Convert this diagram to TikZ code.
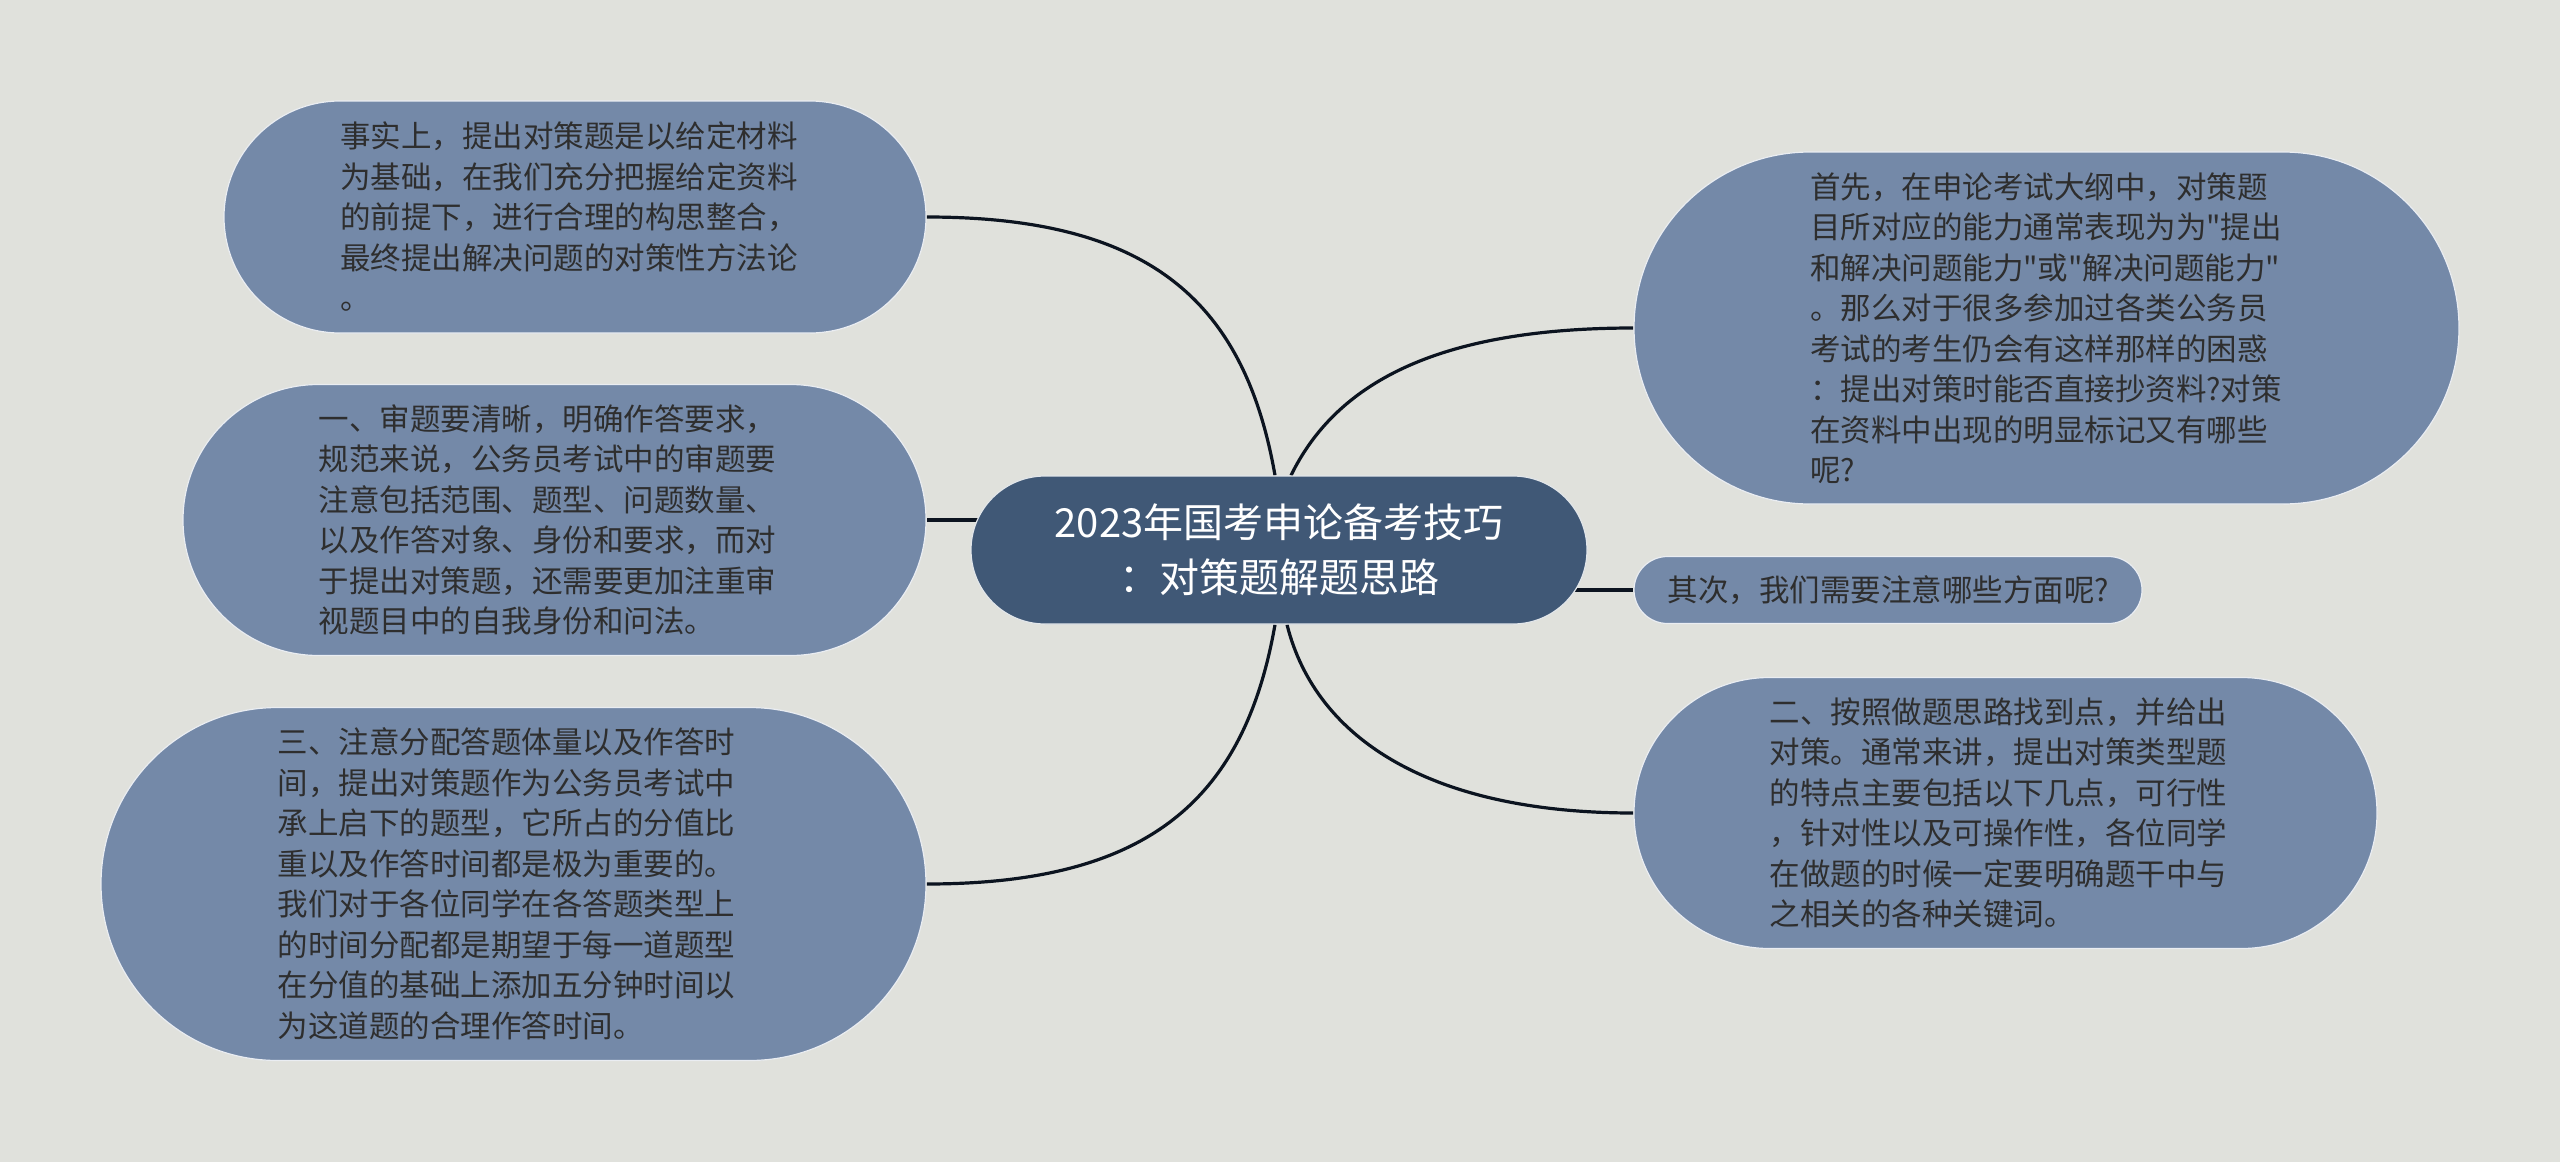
\documentclass[tikz,border=0pt]{standalone}
\usepackage{fontspec}
\newfontfamily\cjkfont{Noto Sans CJK SC}
\usepackage{xcolor}
\usepackage{tikz}
\usetikzlibrary{
    positioning,
    backgrounds
}
\definecolor{paper}{HTML}{E0E1DC}
\definecolor{leafblue}{HTML}{7489A8}
\definecolor{rootblue}{HTML}{405876}
\definecolor{inkgray}{HTML}{2E2E2E}
\definecolor{branchink}{HTML}{0C1420}
\newcommand\leaftextfont{\cjkfont\fontsize{30.5pt}{40.5pt}\selectfont}
\newcommand\roottextfont{\cjkfont\fontsize{40pt}{55.5pt}\selectfont}
\tikzset{
    leaf/.style={
        rectangle, fill=leafblue, draw=white!85!leafblue, line width=1.2pt,
        text=inkgray, align=left, inner sep=0pt, font=\leaftextfont
    },
    rootbox/.style={
        rectangle, fill=rootblue, draw=white!85!rootblue, line width=1.2pt,
        text=white, align=center, inner sep=0pt, font=\roottextfont
    },
    branch/.style={
        line width=3.2pt, draw=branchink
    }
}

\begin{document}
\begin{tikzpicture}[x=1pt, y=-1pt]

        \useasboundingbox (0,0) rectangle (2560,1162);
        \begin{scope}[on background layer]
            \fill[paper] (0,0) rectangle (2560,1162);
        \end{scope}

        % Root
        \node[rootbox, minimum width=616pt, minimum height=148pt, rounded corners=74pt] (root) at (1279,550)
            {2023年国考申论备考技巧\\：对策题解题思路};

        % Left branches
        \node[leaf, minimum width=702pt, minimum height=232pt, text width=470pt, rounded corners=116pt] (facts) at (575,217)
            {事实上，提出对策题是以给定材料\\为基础，在我们充分把握给定资料\\的前提下，进行合理的构思整合，\\最终提出解决问题的对策性方法论\\。};
        \node[leaf, minimum width=743pt, minimum height=271pt, text width=472pt, rounded corners=135.5pt] (step_one) at (554.5,520)
            {一、审题要清晰，明确作答要求，\\规范来说，公务员考试中的审题要\\注意包括范围、题型、问题数量、\\以及作答对象、身份和要求，而对\\于提出对策题，还需要更加注重审\\视题目中的自我身份和问法。};
        \node[leaf, minimum width=825pt, minimum height=353pt, text width=472pt, rounded corners=176.5pt] (step_three) at (513.5,884)
            {三、注意分配答题体量以及作答时\\间，提出对策题作为公务员考试中\\承上启下的题型，它所占的分值比\\重以及作答时间都是极为重要的。\\我们对于各位同学在各答题类型上\\的时间分配都是期望于每一道题型\\在分值的基础上添加五分钟时间以\\为这道题的合理作答时间。};

        % Right branches
        \node[leaf, minimum width=825pt, minimum height=352pt, text width=473pt, rounded corners=176pt] (first) at (2046.5,328)
            {首先，在申论考试大纲中，对策题\\目所对应的能力通常表现为为"提出\\和解决问题能力"或"解决问题能力"\\。那么对于很多参加过各类公务员\\考试的考生仍会有这样那样的困惑\\：提出对策时能否直接抄资料?对策\\在资料中出现的明显标记又有哪些\\呢?};
        \node[leaf, minimum width=508pt, minimum height=67pt, text width=441pt, rounded corners=33.5pt] (second) at (1888,590)
            {其次，我们需要注意哪些方面呢?};
        \node[leaf, minimum width=743pt, minimum height=271pt, text width=472pt, rounded corners=135.5pt] (step_two) at (2005.5,813)
            {二、按照做题思路找到点，并给出\\对策。通常来讲，提出对策类型题\\的特点主要包括以下几点，可行性\\，针对性以及可操作性，各位同学\\在做题的时候一定要明确题干中与\\之相关的各种关键词。};

        % Branches
        \begin{scope}[on background layer]
            \draw[branch] ([xshift=-4pt]root.north) .. controls +(-31,-177) and +(220,0) .. (facts.east);
            \draw[branch] (root.center |- step_one.east) -- (step_one.east);
            \draw[branch] ([xshift=-4pt]root.south) .. controls +(-31,177) and +(220,0) .. (step_three.east);
            \draw[branch] ([xshift=12pt]root.north) .. controls +(44,-90) and +(-200,0) .. (first.west);
            \draw[branch] (root.center |- second.west) -- (second.west);
            \draw[branch] ([xshift=8pt]root.south) .. controls +(29,116) and +(-200,0) .. (step_two.west);
        \end{scope}

    \end{tikzpicture}
\end{document}
